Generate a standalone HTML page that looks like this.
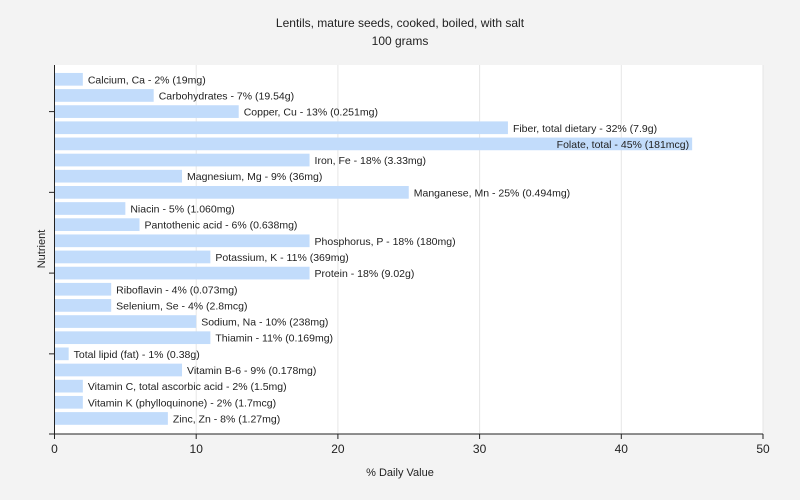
<!DOCTYPE html>
<html><head><meta charset="utf-8"><style>
body{margin:0;background:#f3f3f3;}
svg{display:block;font-family:"Liberation Sans",sans-serif;}
</style></head><body>
<svg width="800" height="500">
<rect x="0" y="0" width="800" height="500" fill="#f3f3f3"/>
<rect x="54.5" y="65" width="709" height="369" fill="#ffffff"/>
<text x="400" y="27" text-anchor="middle" font-size="12" fill="#222">Lentils, mature seeds, cooked, boiled, with salt</text>
<text x="400" y="45" text-anchor="middle" font-size="12" fill="#222">100 grams</text>
<g id="grid"></g><g id="bars"></g><g id="axes"></g>
<text x="400" y="476" text-anchor="middle" font-size="11" fill="#222">% Daily Value</text>
<text x="45" y="249" text-anchor="middle" font-size="11" fill="#222" transform="rotate(-90 45 249)">Nutrient</text>
</svg>
<script>
const categories=["Calcium, Ca","Carbohydrates","Copper, Cu","Fiber, total dietary","Folate, total","Iron, Fe","Magnesium, Mg","Manganese, Mn","Niacin","Pantothenic acid","Phosphorus, P","Potassium, K","Protein","Riboflavin","Selenium, Se","Sodium, Na","Thiamin","Total lipid (fat)","Vitamin B-6","Vitamin C, total ascorbic acid","Vitamin K (phylloquinone)","Zinc, Zn"];
const values=[2,7,13,32,45,18,9,25,5,6,18,11,18,4,4,10,11,1,9,2,2,8];
const amounts=["19mg","19.54g","0.251mg","7.9g","181mcg","3.33mg","36mg","0.494mg","1.060mg","0.638mg","180mg","369mg","9.02g","0.073mg","2.8mcg","238mg","0.169mg","0.38g","0.178mg","1.5mg","1.7mcg","1.27mg"];
const xTicks=[0,10,20,30,40,50];
const NS="http://www.w3.org/2000/svg";
const x0=54.5,x1=763,xmax=50;
const xs=v=>x0+(x1-x0)*v/xmax;
const yc=i=>79.3+i*16.15;
const bh=12.7;
const grid=document.getElementById('grid'),bars=document.getElementById('bars'),axes=document.getElementById('axes');
function mk(tag,attrs,parent){const e=document.createElementNS(NS,tag);for(const k in attrs)e.setAttribute(k,attrs[k]);parent.appendChild(e);return e;}
xTicks.forEach(t=>{
  if(t>0){const g=mk('line',{x1:xs(t),x2:xs(t),y1:65,y2:434,stroke:'#e6e6e6'},grid);
  
  }
  const tk=mk('line',{x1:xs(t),x2:xs(t),y1:434,y2:439,stroke:'#222'},axes);
  
  
  const tl=mk('text',{x:xs(t),y:453,'text-anchor':'middle','font-size':12,fill:'#222'},axes);
  tl.textContent=t;
  
  
});
categories.forEach((c,i)=>{
  const r=mk('rect',{x:x0,y:yc(i)-bh/2,width:xs(values[i])-x0,height:bh,fill:'#c2dcfb'},bars);
  
  
  const t=mk('text',{x:xs(values[i])+5,y:yc(i)+4,'font-size':10.5,fill:'#222'},bars);
  t.textContent=c+' - '+values[i]+'% ('+amounts[i]+')';
  
  
  const w=t.getComputedTextLength();
  if(xs(values[i])+5+w>x1){t.setAttribute('x',xs(values[i])-3);t.setAttribute('text-anchor','end');}
});
[2,7,12,17].forEach(i=>{
  const l=mk('line',{x1:49,x2:x0,y1:yc(i),y2:yc(i),stroke:'#222'},axes);
  
  
});
const ya=mk('line',{x1:x0,x2:x0,y1:65,y2:434,stroke:'#222'},axes);


const xa=mk('line',{x1:49,x2:x1,y1:434,y2:434,stroke:'#222'},axes);


</script>
</body></html>
